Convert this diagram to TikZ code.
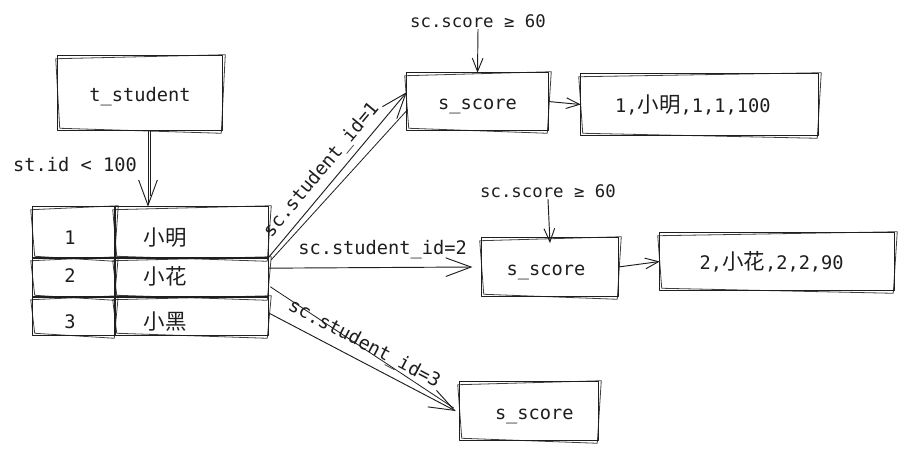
\documentclass[tikz,border=0pt]{standalone}
\usepackage{fontspec}
\setmonofont{DejaVu Sans Mono}
\newfontfamily\cjk[Scale=1.15]{Noto Sans CJK SC}
\usetikzlibrary{arrows.meta,calc}
\definecolor{ink}{HTML}{1E1E1E}
\newcommand\zh[1]{{\cjk #1}}
\newcommand\skbox[1]{%
  \draw[skl] (#1.north west) -- (#1.north east) -- (#1.south east) -- (#1.south west) -- cycle;
  \draw[skl,opacity=.85] ([shift={(-2,3)}]#1.north west) -- ([shift={(3,-1)}]#1.north east)
     -- ([shift={(-1,3)}]#1.south east) -- ([shift={(2,-2)}]#1.south west) -- cycle;}
\begin{document}
\begin{tikzpicture}[x=0.75pt,y=-0.75pt,
  skl/.style={draw=ink,line width=0.6pt,line join=round},
  box/.style={inner sep=0pt,text height=12pt,text depth=0pt,font=\ttfamily\fontsize{14}{16}\selectfont,text=ink},
  txt/.style={inner sep=1pt,font=\ttfamily\fontsize{14}{16}\selectfont,text=ink},
  qtxt/.style={inner sep=1pt,font=\ttfamily\fontsize{13}{15}\selectfont,text=ink},
  big/.style={draw=ink,line width=0.7pt,-{Straight Barb[length=19pt,width=14pt]}},
  small/.style={draw=ink,line width=0.7pt,-{Straight Barb[length=10pt,width=8pt]}}]
\useasboundingbox[fill=white] (0,0) rectangle (904,451);

% boxes
\node[box,minimum width=123pt,minimum height=55.5pt] (tstu) at (140,93) {t\_student};
\node[box,minimum width=61.5pt,minimum height=38.25pt] (c11) at (74,232.5) {};
\node[box,minimum width=114.75pt,minimum height=38.25pt] (c12) at (191.5,232.5) {};
\node[box,minimum width=61.5pt,minimum height=29.25pt] (c21) at (74,277.5) {};
\node[box,minimum width=114.75pt,minimum height=29.25pt] (c22) at (191.5,277.5) {};
\node[box,minimum width=61.5pt,minimum height=28.5pt] (c31) at (74,316) {};
\node[box,minimum width=114.75pt,minimum height=28.5pt] (c32) at (191.5,316) {};
\node[box,minimum width=105.75pt,minimum height=42.75pt] (s1) at (477.5,101.5) {s\_score};
\node[box,minimum width=177.75pt,minimum height=45.75pt] (r1) at (699.5,104.5) {\hspace{-10pt}1,\zh{小明},1,1,100};
\node[box,minimum width=102pt,minimum height=43.5pt] (s2) at (550,267) {\hspace{-6pt}s\_score};
\node[box,minimum width=175.5pt,minimum height=42.75pt] (r2) at (777,261.5) {\hspace{-8pt}2,\zh{小花},2,2,90};
\node[box,minimum width=103.5pt,minimum height=43.5pt] (s3) at (529,411) {\hspace{8pt}s\_score};

\foreach \n in {tstu,c11,c12,c21,c22,c31,c32,s1,r1,s2,r2,s3} {\skbox{\n}}

% table texts
\node[txt] (t1) at (70,238) {1};
\node[txt] (m1) at (165,238) {\zh{小明}};
\node[txt] (t2) at (70,276) {2};
\node[txt] (m2) at (165,276) {\zh{小花}};
\node[txt] (t3) at (70,322) {3};
\node[txt] (m3) at (165,322) {\zh{小黑}};

% labels
\node[txt] (lb0) at (75,165) {st.id < 100};
\node[qtxt] (q1) at (478,21) {sc.score ≥ 60};
\node[qtxt] (q2) at (548,191) {sc.score ≥ 60};

% connectors
\draw[big] ([xshift=6pt]tstu.south) -- ([xshift=6pt]tstu.south |- c12.north);
\draw[skl] ([xshift=8pt]tstu.south) -- ([xshift=8pt,yshift=8pt]tstu.south |- c12.north);

\draw[big] (c22.north east) -- node[txt,pos=0.47,sloped,above,inner sep=4pt] (l1) {sc.student\_id=1} ([yshift=7pt]s1.west);
\draw[skl] ([shift={(3,2)}]c22.north east) -- ([shift={(1,8)}]s1.west);

\draw[big] ([yshift=7pt]c22.east) -- node[txt,pos=0.56,above,inner sep=6pt] (l2) {sc.student\_id=2} ([xshift=-7pt]s2.west);

\draw[big] ([yshift=-12pt]c32.north east) -- node[txt,pos=0.47,sloped,above,inner sep=5pt] (l3) {sc.student\_id=3} ([xshift=-3pt]s3.west);
\draw[skl] ([shift={(2,-10)}]c32.north east) -- ([shift={(-6,-3)}]s3.west);

\draw[small] (q1.south) -- (s1.north);
\draw[small] (q2.south) -- ([yshift=-4pt]s2.north);
\draw[small] (s1.east) -- (r1.west);
\draw[small] (s2.east) -- (r2.west);
\end{tikzpicture}
\end{document}
